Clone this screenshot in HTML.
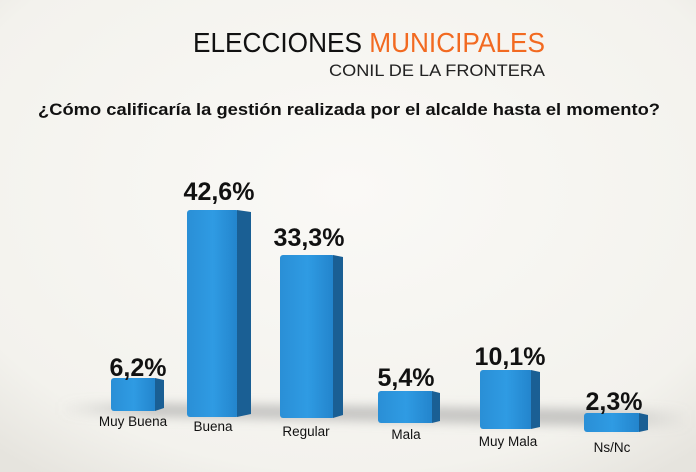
<!DOCTYPE html>
<html><head><meta charset="utf-8"><style>
html,body{margin:0;padding:0;width:696px;height:472px;overflow:hidden;background:#f6f5f1}
svg{display:block}
</style></head><body>
<svg width="696" height="472" viewBox="0 0 696 472" xmlns="http://www.w3.org/2000/svg">
<defs>
<radialGradient id="bg" cx="50%" cy="40%" r="75%">
<stop offset="0" stop-color="#faf9f6"/><stop offset="0.8" stop-color="#f3f2ed"/><stop offset="1" stop-color="#e6e4de"/>
</radialGradient>
<linearGradient id="front" x1="0" x2="1" y1="0" y2="0">
<stop offset="0" stop-color="#2a8fd6"/><stop offset="0.5" stop-color="#2f9be3"/><stop offset="1" stop-color="#2283cb"/>
</linearGradient>
<linearGradient id="shx" x1="0" x2="1" y1="0" y2="0">
<stop offset="0" stop-color="#999" stop-opacity="0"/><stop offset="0.15" stop-color="#999" stop-opacity="0.5"/><stop offset="0.85" stop-color="#999" stop-opacity="0.5"/><stop offset="1" stop-color="#999" stop-opacity="0"/>
</linearGradient>
<filter id="blur" x="-10%" y="-100%" width="120%" height="300%"><feGaussianBlur stdDeviation="5"/></filter>
</defs>
<rect width="696" height="472" fill="url(#bg)"/>
<polygon points="60,402 690,410 690,428 60,415" fill="url(#shx)" filter="url(#blur)"/>
<text x="193" y="52" font-family="Liberation Sans, sans-serif" font-size="28" fill="#111" textLength="352" lengthAdjust="spacingAndGlyphs">ELECCIONES <tspan fill="#f26a21">MUNICIPALES</tspan></text>
<text x="329" y="76" font-family="Liberation Sans, sans-serif" font-size="17" fill="#222" textLength="216" lengthAdjust="spacingAndGlyphs">CONIL DE LA FRONTERA</text>
<text x="38" y="115" font-family="Liberation Sans, sans-serif" font-size="17" font-weight="bold" fill="#111" textLength="622" lengthAdjust="spacingAndGlyphs">¿Cómo calificaría la gestión realizada por el alcalde hasta el momento?</text>
<g font-family="Liberation Sans, sans-serif">
<g>
<rect x="111" y="378" width="46" height="33" rx="3" fill="url(#front)"/><polygon points="155,378 164,380 164,408 155,411" fill="#1a5f94"/>
<rect x="187" y="210" width="52" height="207" rx="3" fill="url(#front)"/><polygon points="237,210 251,212 251,414 237,417" fill="#1a5f94"/>
<rect x="280" y="255" width="55" height="163" rx="3" fill="url(#front)"/><polygon points="333,255 343,257 343,415 333,418" fill="#1a5f94"/>
<rect x="378" y="391" width="56" height="32" rx="3" fill="url(#front)"/><polygon points="432,391 440,393 440,421 432,423" fill="#1a5f94"/>
<rect x="480" y="370" width="53" height="59" rx="3" fill="url(#front)"/><polygon points="531,370 540,372 540,427 531,429" fill="#1a5f94"/>
<rect x="584" y="413" width="57" height="19" rx="3" fill="url(#front)"/><polygon points="639,413 648,415 648,430 639,432" fill="#1a5f94"/>
</g>
<g font-size="25" font-weight="bold" fill="#111" text-anchor="middle">
<text x="138" y="376">6,2%</text>
<text x="219" y="200">42,6%</text>
<text x="309" y="246">33,3%</text>
<text x="406" y="386">5,4%</text>
<text x="510" y="365">10,1%</text>
<text x="614" y="410">2,3%</text>
</g>
<g font-size="13.5" fill="#111" text-anchor="middle">
<text x="133" y="426">Muy Buena</text>
<text x="213" y="431">Buena</text>
<text x="306" y="436">Regular</text>
<text x="406" y="439">Mala</text>
<text x="508" y="446">Muy Mala</text>
<text x="612" y="452">Ns/Nc</text>
</g>
</g>
</svg>
</body></html>
